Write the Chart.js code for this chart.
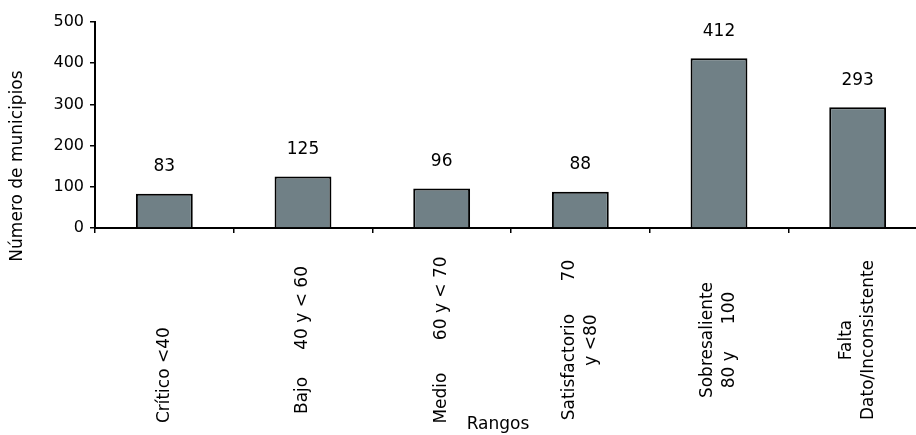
<!DOCTYPE html>
<html>
<head>
<meta charset="utf-8">
<script src="https://cdn.jsdelivr.net/npm/chart.js@4.4.0/dist/chart.umd.min.js"></script>
<style>
    body { margin: 0; background: #fff; overflow: hidden; }
    #wrap { width: 930px; height: 435px; }
</style>
</head>
<body>
<div id="wrap"><canvas id="barChart"></canvas></div>
<script>
    // Data
    const categories = [
        ['Crítico <40             '],
        ['Bajo     40 y < 60'],
        ['Medio      60 y < 70'],
        ['Satisfactorio      70', 'y <80'],
        ['Sobresaliente', '80 y     100'],
        ['Falta', 'Dato/Inconsistente']
    ]
    const municipios = [83, 125, 96, 88, 412, 293]
    const yTickValues = [0, 100, 200, 300, 400, 500]
    const yTitle = 'Número de municipios'
    const xTitle = 'Rangos'

    const font = '17px "DejaVu Sans"'

    // Labels, values and axis titles drawn on top of the chart
    const textPlugin = {
        id: 'textPlugin',
        afterDraw(chart) {
            const ctx = chart.ctx
            const xScale = chart.scales.x
            ctx.save()
            ctx.fillStyle = '#000'
            ctx.font = font
            ctx.textAlign = 'center'
            ctx.textBaseline = 'middle'

            // values above bars
            const meta = chart.getDatasetMeta(0)
            meta.data.forEach((bar, i) => {
                ctx.fillText(municipios[i], bar.x, bar.y - 27)
            })

            // rotated category labels, lines centered
            categories.forEach((lines, i) => {
                const x = xScale.getPixelForValue(i)
                lines.forEach((line, j) => {
                    ctx.save()
                    ctx.translate(x + (j - (lines.length - 1) / 2) * 22, 340)
                    ctx.rotate(-Math.PI / 2)
                    ctx.fillText(line, 0, 0)
                    ctx.restore()
                })
            })

            // axis titles
            ctx.fillText(xTitle, 498, 425)
            ctx.translate(18, 166)
            ctx.rotate(-Math.PI / 2)
            ctx.fillText(yTitle, 0, 0)
            ctx.restore()
        }
    }

    const data = {
        labels: categories,
        datasets: [{
            label: yTitle,
            data: municipios,
            backgroundColor: '#708086',
            borderColor: '#000',
            borderWidth: 2,
            barPercentage: 0.41,
            categoryPercentage: 1
        }]
    }

    const config = {
        type: 'bar',
        data,
        plugins: [textPlugin],
        options: {
            responsive: true,
            maintainAspectRatio: false,
            animation: false,
            layout: { padding: { top: 22, right: 3, left: 0, bottom: 0 } },
            plugins: {
                legend: { display: false },
                tooltip: { enabled: false }
            },
            scales: {
                x: {
                    offset: true,
                    ticks: { display: false },
                    grid: {
                        offset: true,
                        drawOnChartArea: false,
                        drawTicks: true,
                        tickLength: 5,
                        color: '#000',
                        lineWidth: 1.5
                    },
                    border: { color: '#000', width: 2 },
                    afterFit(scale) { scale.height = 207 }
                },
                y: {
                    min: 0,
                    max: 500,
                    afterBuildTicks(scale) {
                        scale.ticks = yTickValues.map(v => ({ value: v }))
                    },
                    ticks: {
                        color: '#000',
                        font: { family: 'DejaVu Sans', size: 16 },
                        padding: 6
                    },
                    grid: {
                        drawOnChartArea: false,
                        drawTicks: true,
                        tickLength: 5,
                        color: '#000',
                        lineWidth: 1.5
                    },
                    border: { color: '#000', width: 2 },
                    afterFit(scale) { scale.width = 95 }
                }
            }
        }
    }

    const barChart = new Chart(document.getElementById('barChart'), config)
</script>
</body>
</html>
